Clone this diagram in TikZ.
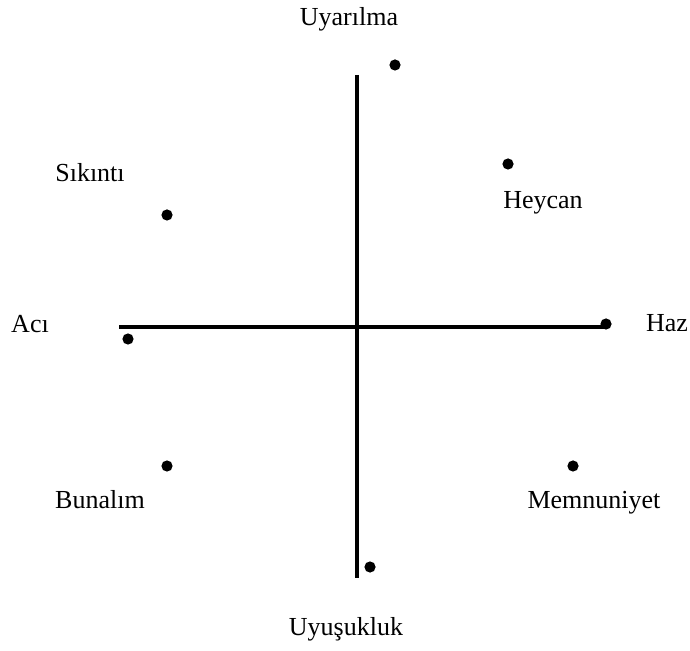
\documentclass[tikz,border=0pt]{standalone}
\usepackage{fontspec}
\setmainfont{Liberation Serif}
\usetikzlibrary{positioning}
\tikzset{
  axis/.style  = {line width=1.75pt, black},
  dot/.style   = {circle, fill=black, inner sep=0pt, minimum size=5.6pt},
  lbl/.style   = {font=\fontsize{13}{15}\selectfont, anchor=base, inner sep=0pt},
}
\begin{document}
\begin{tikzpicture}[x=0.5pt, y=-0.5pt]
  \useasboundingbox (0,0) rectangle (690,651);

  %% ---------------- axes ----------------
  \coordinate (top)    at (357,75);
  \coordinate (bottom) at (357,578);
  \coordinate (left)   at (119,327);
  \coordinate (right)  at (606,327);
  \draw[axis] (top) -- (bottom);
  \draw[axis] (left) -- (right);

  %% ---------------- points ----------------
  \node[dot] (dUyar) at (395,65)  {};
  \node[dot] (dHeyc) at (508,164) {};
  \node[dot] (dSiki) at (167,215) {};
  \node[dot] (dAci)  at (128,339) {};
  \node[dot] (dHaz)  at (606,324) {};
  \node[dot] (dBuna) at (167,466) {};
  \node[dot] (dMemn) at (573,466) {};
  \node[dot] (dUyus) at (370,567) {};

  %% ---------------- labels ----------------
  \node[lbl] (uyar) at (349,26)  {Uyarılma};
  \node[lbl] (heyc) at (543,209) {Heycan};
  \node[lbl] (siki) at (90,182)  {Sıkıntı};
  \node[lbl] (aci)  at (30,333)  {Acı};
  \node[lbl] (haz)  at (667,332) {Haz};
  \node[lbl] (buna) at (100,509) {Bunalım};
  \node[lbl] (memn) at (594,509) {Memnuniyet};
  \node[lbl] (uyus) at (346,635) {Uyuşukluk};
\end{tikzpicture}
\end{document}
